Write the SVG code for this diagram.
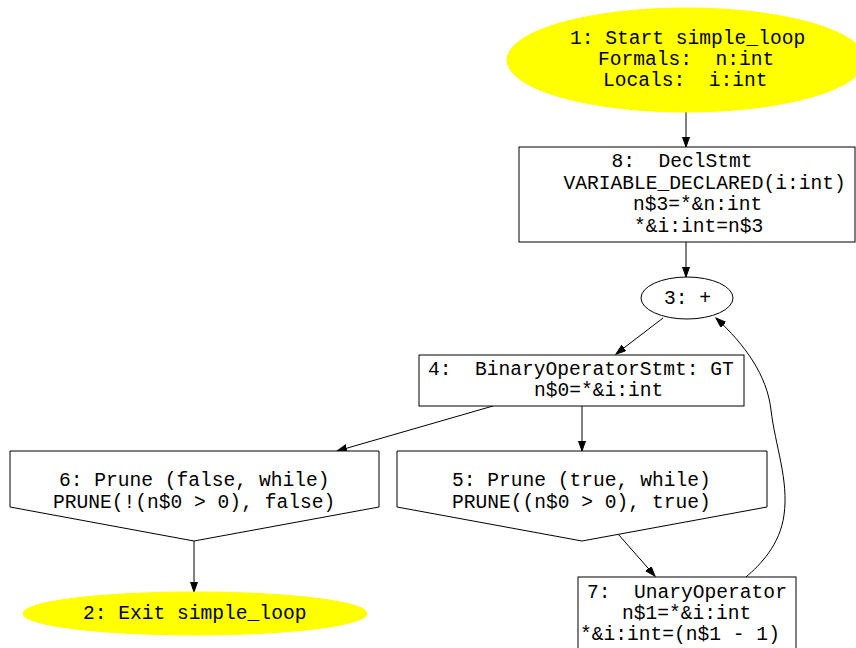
<svg xmlns="http://www.w3.org/2000/svg" width="856" height="648" viewBox="0 0 856 648">
  <style>
    text { font-family: "Liberation Mono", "DejaVu Sans Mono", monospace; font-size: 19.6px; fill: #000; }
    .shape { fill: #fff; stroke: #000; stroke-width: 1; }
    .term { fill: #ffff00; stroke: #ffff00; stroke-width: 1; }
    .edge { fill: none; stroke: #000; stroke-width: 1; marker-end: url(#arrow); }
  </style>
  <defs>
    <marker id="arrow" markerUnits="userSpaceOnUse" markerWidth="11" markerHeight="8" refX="10" refY="3.5" orient="auto">
      <path d="M0,0 L10,3.5 L0,7 Z" fill="#000" stroke="#000" stroke-width="1"/>
    </marker>
  </defs>
  <rect width="856" height="648" fill="#fff"/>

  <g id="edges">
    <line class="edge" x1="686" y1="112" x2="686" y2="147"/>
    <line class="edge" x1="686" y1="242" x2="686" y2="277"/>
    <line class="edge" x1="663" y1="318" x2="616" y2="354"/>
    <line class="edge" x1="493" y1="406" x2="337" y2="451"/>
    <line class="edge" x1="582" y1="406" x2="582" y2="451"/>
    <line class="edge" x1="194" y1="541" x2="194" y2="592"/>
    <line class="edge" x1="618" y1="534" x2="655" y2="576"/>
    <path class="edge" d="M746,577 C760,565 780,545 784,515 C789,480 775,445 771,410 C767,375 745,345 716,318"/>
  </g>

  <g id="node1">
    <ellipse class="term" cx="686" cy="60" rx="179" ry="52"/>
    <text x="570" y="44">1: Start simple_loop</text>
    <text x="598" y="65" xml:space="preserve">Formals:  n:int</text>
    <text x="603" y="86" xml:space="preserve">Locals:  i:int</text>
  </g>

  <g id="node8">
    <rect class="shape" x="519" y="147" width="336" height="95"/>
    <text x="611.5" y="167" xml:space="preserve">8:  DeclStmt</text>
    <text x="563.5" y="188.5">VARIABLE_DECLARED(i:int)</text>
    <text x="633" y="210">n$3=*&amp;n:int</text>
    <text x="634" y="231.5">*&amp;i:int=n$3</text>
  </g>

  <g id="node3">
    <ellipse class="shape" cx="687" cy="298" rx="46" ry="21"/>
    <text x="664" y="304">3: +</text>
  </g>

  <g id="node4">
    <rect class="shape" x="419" y="355" width="325" height="51"/>
    <text x="428" y="375" xml:space="preserve">4:  BinaryOperatorStmt: GT</text>
    <text x="534" y="396">n$0=*&amp;i:int</text>
  </g>

  <g id="node6">
    <polygon class="shape" points="10,451 379,451 379,507 194,541 10,507"/>
    <text x="59" y="486">6: Prune (false, while)</text>
    <text x="53" y="507.5">PRUNE(!(n$0 &gt; 0), false)</text>
  </g>

  <g id="node5">
    <polygon class="shape" points="397,451 767,451 767,507 582,541 397,507"/>
    <text x="452" y="486">5: Prune (true, while)</text>
    <text x="452" y="507.5">PRUNE((n$0 &gt; 0), true)</text>
  </g>

  <g id="node2">
    <ellipse class="term" cx="195" cy="613.5" rx="172" ry="21.5"/>
    <text x="83" y="619">2: Exit simple_loop</text>
  </g>

  <g id="node7">
    <rect class="shape" x="578" y="577" width="218" height="80"/>
    <text x="587" y="597.5" xml:space="preserve">7:  UnaryOperator</text>
    <text x="622" y="619">n$1=*&amp;i:int</text>
    <text x="580" y="640">*&amp;i:int=(n$1 - 1)</text>
  </g>
</svg>
